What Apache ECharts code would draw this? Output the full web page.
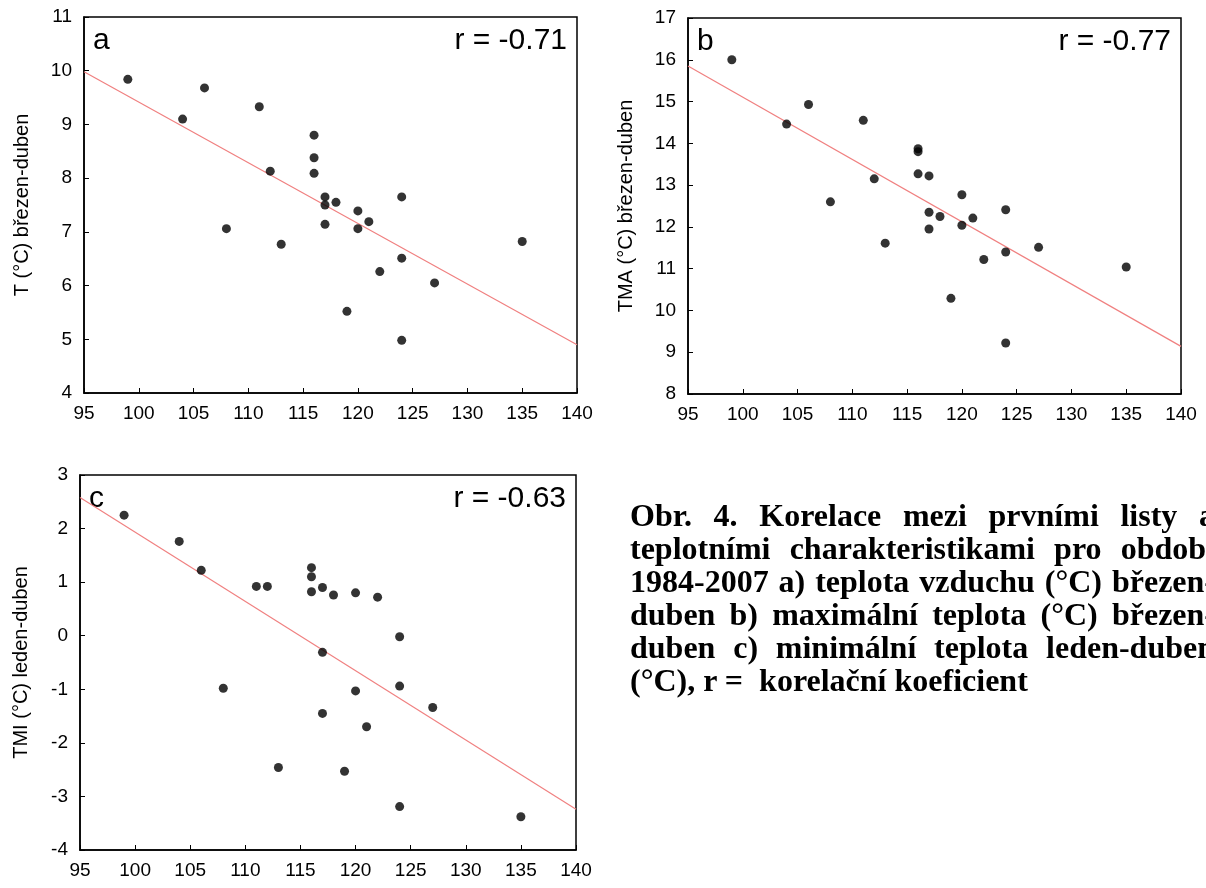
<!DOCTYPE html>
<html>
<head>
<meta charset="utf-8">
<script src="https://cdn.jsdelivr.net/npm/echarts@6/dist/echarts.min.js"></script>
<style>
html,body{margin:0;padding:0;background:#fff;overflow:hidden;}
#chart{position:absolute;left:0;top:0;width:1206px;height:888px;}
#caption{position:absolute;left:630px;top:499px;width:585px;font-family:"Liberation Serif","Times New Roman",serif;font-weight:bold;font-size:32px;line-height:33px;color:#000;}
#caption div{text-align:justify;text-align-last:justify;white-space:nowrap;}
#caption div.last{text-align:left;text-align-last:left;}
</style>
</head>
<body>
<div id="chart"></div>
<div id="caption">
<div>Obr. 4. Korelace mezi prvními listy a</div>
<div>teplotními charakteristikami pro období</div>
<div>1984-2007 a) teplota vzduchu (°C) březen-</div>
<div>duben b) maximální teplota (°C) březen-</div>
<div>duben c) minimální teplota leden-duben</div>
<div class="last">(°C), r =&nbsp; korelační koeficient</div>
</div>
<script>
// first-leaf day (x) shared by all panels
const leafDay = [99, 104, 106, 108, 111, 112, 113, 116, 116, 116, 117, 117, 117, 118, 119, 120, 120, 121, 122, 124, 124, 124, 127, 135];
// panel a: T (°C) březen-duben
const tempA = [9.84, 9.10, 9.68, 7.06, 9.33, 8.13, 6.77, 8.80, 8.38, 8.09, 7.65, 7.50, 7.14, 7.55, 5.52, 7.39, 7.06, 7.19, 6.26, 7.65, 6.51, 4.98, 6.05, 6.82];
// panel b: TMA (°C) březen-duben
const tempB = [16.0, 14.46, 14.93, 12.60, 14.55, 13.15, 11.61, 13.87, 13.80, 13.27, 13.22, 12.35, 11.95, 12.25, 10.29, 12.77, 12.04, 12.21, 11.22, 12.41, 11.40, 9.22, 11.51, 11.04];
// panel c: TMI (°C) leden-duben
const tempC = [2.25, 1.76, 1.22, -0.98, 0.92, 0.92, -2.46, 1.27, 1.10, 0.82, 0.90, -0.31, -1.45, 0.76, -2.53, 0.80, -1.03, -1.70, 0.72, -0.02, -0.94, -3.19, -1.34, -3.38];
// regression line end points [x, y]
const trendA = [[95, 9.98], [140, 4.90]];
const trendB = [[95, 15.85], [140, 9.14]];
const trendC = [[95, 2.58], [140, -3.24]];
const panelLetters = ['a', 'b', 'c'];
const rLabels = ['r = -0.71', 'r = -0.77', 'r = -0.63'];
const yNames = ['T (°C) březen-duben', 'TMA (°C) březen-duben', 'TMI (°C) leden-duben'];
const yRanges = [[4, 11], [8, 17], [-4, 3]];
const xRange = [95, 140];

const grids = [
  {left: 84, top: 17, width: 493, height: 376},
  {left: 688, top: 18, width: 493, height: 376},
  {left: 80, top: 475, width: 496, height: 375}
];
const yGaps = [52, 52, 49];
const pts = [tempA, tempB, tempC].map(arr => arr.map((v, i) => [leafDay[i], v]));
const trends = [trendA, trendB, trendC];

const FONT = '"Liberation Sans", Arial, sans-serif';
const option = {
  backgroundColor: '#fff',
  animation: false,
  grid: grids.map(g => Object.assign({show: true, borderColor: '#000', borderWidth: 1.5, containLabel: false}, g)),
  xAxis: grids.map((g, i) => ({
    type: 'value', gridIndex: i, min: xRange[0], max: xRange[1], interval: 5,
    axisLine: {show: true, onZero: false, lineStyle: {color: '#000', width: 1.5}},
    axisTick: {show: true, inside: true, length: 5, lineStyle: {color: '#000'}},
    axisLabel: {color: '#000', fontFamily: FONT, fontSize: 19, margin: 11},
    splitLine: {show: false}
  })),
  yAxis: grids.map((g, i) => ({
    type: 'value', gridIndex: i, min: yRanges[i][0], max: yRanges[i][1], interval: 1,
    name: yNames[i], nameLocation: 'middle', nameGap: yGaps[i],
    nameTextStyle: {color: '#000', fontFamily: FONT, fontSize: 20},
    axisLine: {show: true, onZero: false, lineStyle: {color: '#000', width: 1.5}},
    axisTick: {show: true, inside: true, length: 5, lineStyle: {color: '#000'}},
    axisLabel: {color: '#000', fontFamily: FONT, fontSize: 19, margin: 12},
    splitLine: {show: false}
  })),
  series: [].concat(
    trends.map((t, i) => ({
      type: 'line', xAxisIndex: i, yAxisIndex: i, data: t, showSymbol: false, symbol: 'none',
      lineStyle: {color: '#f08080', width: 1.2}, z: 2, silent: true
    })),
    pts.map((p, i) => ({
      type: 'scatter', xAxisIndex: i, yAxisIndex: i, data: p, symbol: 'circle', symbolSize: 9,
      itemStyle: {color: '#000'}, z: 3
    }))
  ),
  graphic: [].concat(
    grids.map((g, i) => ({
      type: 'text', left: g.left + 9, top: g.top + 9,
      style: {text: panelLetters[i], font: '30px ' + FONT, fill: '#000'}
    })),
    grids.map((g, i) => ({
      type: 'text', right: 1206 - (g.left + g.width) + 10, top: g.top + 9,
      style: {text: rLabels[i], font: '30px ' + FONT, fill: '#000'}
    }))
  )
};
const chart = echarts.init(document.getElementById('chart'), null, {renderer: 'canvas'});
chart.setOption(option);
</script>
</body>
</html>
